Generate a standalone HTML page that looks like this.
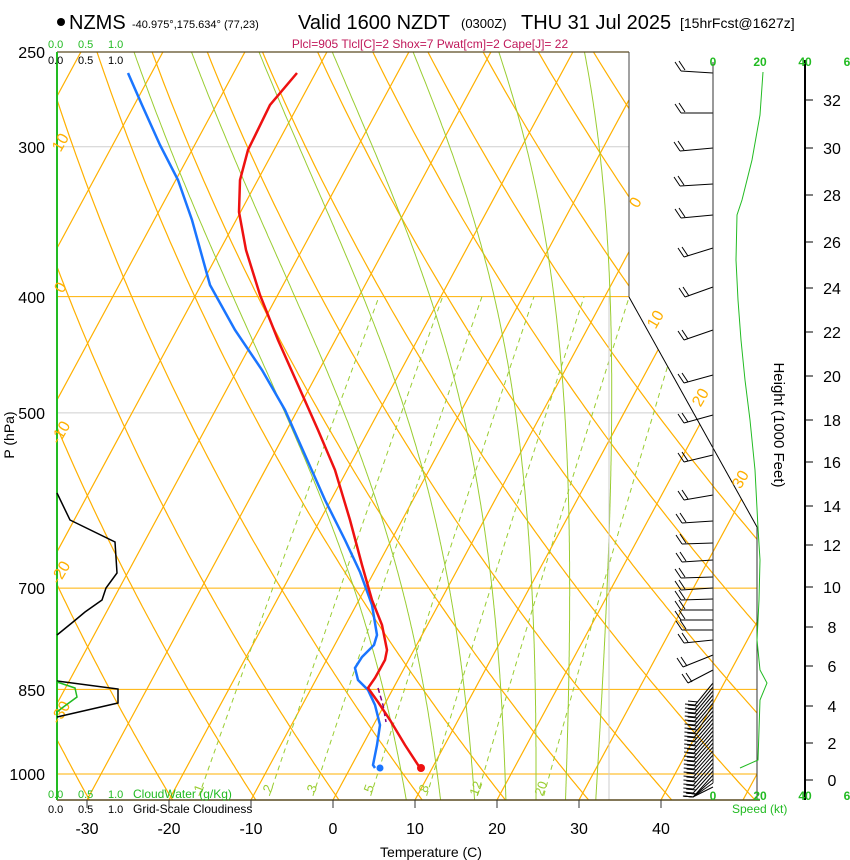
<!DOCTYPE html>
<html><head><meta charset="utf-8"><style>
html,body{margin:0;padding:0;background:#fff;}
svg{display:block;font-family:"Liberation Sans",sans-serif;}
</style></head><body>
<svg id="s" width="850" height="860" viewBox="0 0 850 860" xmlns="http://www.w3.org/2000/svg">
<defs><clipPath id="c"><polygon points="57,52 629,52 629,297 757,527 757,800 57,800"/></clipPath></defs>
<g id="grid" clip-path="url(#c)"></g>
<g id="over"></g>
</svg>
<script>
var NS="http://www.w3.org/2000/svg";
function el(par,tag,a,txt){var e=document.createElementNS(NS,tag);for(var k in a)e.setAttribute(k,a[k]);if(txt!=null)e.textContent=txt;par.appendChild(e);return e;}
var G=document.getElementById("grid"),O=document.getElementById("over");
function Y(p){return 774-521*Math.log(1000/p);}
function X(T,p){return 333+8.2*T+0.54*(800-Y(p));}
function pts(arr){return arr.map(function(a){return a[0].toFixed(1)+","+a[1].toFixed(1)}).join(" ");}
var OR="#ffb000",GR="#9acd32";
var ps=[];for(var p=1060;p>=240;p-=5)ps.push(p);
[[300,"#cfcfcf"],[500,"#cfcfcf"],[400,OR],[700,OR],[850,OR],[1000,OR]].forEach(function(a){el(G,"line",{x1:57,x2:760,y1:Y(a[0]),y2:Y(a[0]),stroke:a[1],"stroke-width":1});});
for(var T=-140;T<=60;T+=10){el(G,"polyline",{points:pts([[X(T,1060),Y(1060)],[X(T,240),Y(240)]]),fill:"none",stroke:OR,"stroke-width":1.2});}
for(var th=230;th<=480;th+=10){var a=[];ps.forEach(function(p){var t=th*Math.pow(p/1000,0.286)-273.15;a.push([X(t,p),Y(p)]);});el(G,"polyline",{points:pts(a),fill:"none",stroke:OR,"stroke-width":1.2});}
[1,2,3,5,8,12,20].forEach(function(w){var a=[];for(var p=1060;p>=400;p-=10){var e=w*p/(622+w);var l=Math.log(e/6.112);var t=243.5*l/(17.67-l);a.push([X(t,p),Y(p)]);}el(G,"polyline",{points:pts(a),fill:"none",stroke:GR,"stroke-width":1,"stroke-dasharray":"5,4"});});
function es(t){return 6.112*Math.exp(17.67*t/(t+243.5));}
function dTdp(Tk,p){var t=Tk-273.15;var rs=0.622*es(t)/(p-es(t));var Rd=287,Lv=2.5e6,cp=1005,eps=0.622;return (1/p)*(Rd*Tk+Lv*rs)/(cp+Lv*Lv*rs*eps/(Rd*Tk*Tk));}
function moist(t0){var Tk=t0+273.15,p=1000;var up=[];while(p>=244){up.push([X(Tk-273.15,p),Y(p)]);Tk-=dTdp(Tk,p)*2;p-=2;}up.push([X(Tk-273.15,p),Y(p)]);Tk=t0+273.15;p=1000;var dn=[];while(p<=1060){dn.unshift([X(Tk-273.15,p),Y(p)]);Tk+=dTdp(Tk,p)*2;p+=2;}return dn.concat(up);}
[128,185,252,325,406,493,581].forEach(function(tx){var lo=-40,hi=40;for(var i=0;i<30;i++){var m=(lo+hi)/2;var L=moist(m);var xe=L[L.length-1][0];if(xe<tx)lo=m;else hi=m;}el(G,"polyline",{points:pts(moist((lo+hi)/2)),fill:"none",stroke:GR,"stroke-width":1});});
el(G,"line",{x1:609,x2:609,y1:297,y2:800,stroke:"#cccccc","stroke-width":1});
el(O,"line",{x1:57,x2:629,y1:52,y2:52,stroke:"#5a4a20","stroke-width":1.3});
el(O,"line",{x1:629,x2:629,y1:52,y2:297,stroke:"#444","stroke-width":1});
el(O,"line",{x1:629,x2:757,y1:297,y2:527,stroke:"#000","stroke-width":1});
el(O,"line",{x1:757,x2:757,y1:527,y2:800,stroke:"#333","stroke-width":1});
el(O,"line",{x1:57,x2:760,y1:800,y2:800,stroke:"#5a4a20","stroke-width":1.5});
el(O,"line",{x1:57,x2:57,y1:52,y2:800,stroke:"#22bb22","stroke-width":2});
[87,169,251,333,415,497,579,661].forEach(function(x,i){el(O,"line",{x1:x,x2:x,y1:800,y2:808,stroke:"#333"});el(O,"text",{x:x,y:834,"font-size":16,"text-anchor":"middle"},String(-30+10*i));});
[[65,145,"10"],[65,290,"0"],[65,435,"-10"],[65,575,"-20"],[65,715,"-30"],[640,205,"0"],[660,322,"10"],[705,400,"20"],[745,482,"30"]].forEach(function(a){el(O,"text",{x:a[0],y:a[1],"font-size":16,fill:OR,transform:"rotate(-60 "+a[0]+" "+a[1]+")","text-anchor":"middle"},a[2]);});
[[203,790,"1"],[272,790,"2"],[316,790,"3"],[373,790,"5"],[428,790,"8"],[480,790,"12"],[545,790,"20"]].forEach(function(a){el(O,"text",{x:a[0],y:a[1],"font-size":13,fill:GR,transform:"rotate(-70 "+a[0]+" "+a[1]+")","text-anchor":"middle"},a[2]);});
el(O,"polyline",{points:"57,493 70,520 115,542 117,573 106,588 102,600 85,612 73,622 57,635",fill:"none",stroke:"#000","stroke-width":1.5});
el(O,"polyline",{points:"57,681 118,689 118,703 57,717",fill:"none",stroke:"#000","stroke-width":1.5});
el(O,"polyline",{points:"57,682 75,688 77,697 62,708 57,712",fill:"none",stroke:"#22bb22","stroke-width":1.5});
el(O,"polyline",{points:"128,73 142,105 160,145 178,180 192,220 210,285 235,330 262,370 285,410 305,455 325,500 345,540 360,572 372,605 377,635 374,645 362,657 355,668 358,680 368,690 375,705 380,725 377,745 373,765 375,768",fill:"none",stroke:"#1a75ff","stroke-width":2.5});
el(O,"polyline",{points:"378,688 383,705 386,722",fill:"none",stroke:"#800080","stroke-width":1.5,"stroke-dasharray":"5,3"});
el(O,"polyline",{points:"297,73 270,105 248,150 240,180 239,212 246,250 260,295 278,340 298,385 318,430 335,470 350,520 362,565 372,600 382,625 387,650 385,660 375,678 368,688 378,702 390,720 405,745 420,768",fill:"none",stroke:"#ee1111","stroke-width":2.5});
el(O,"circle",{cx:421,cy:768,r:4,fill:"#ee1111"});
el(O,"circle",{cx:380,cy:768,r:3.5,fill:"#1a75ff"});
function barb(y,ex,ey){el(O,"line",{x1:713,y1:y,x2:ex,y2:ey,stroke:"#000","stroke-width":1});el(O,"line",{x1:ex,y1:ey,x2:ex-6,y2:ey-9,stroke:"#000","stroke-width":1});el(O,"line",{x1:ex+4,y1:ey-1,x2:ex-2,y2:ey-10,stroke:"#000","stroke-width":1});}
[[73,681,71],[113,681,113],[148,680,151],[184,680,186],[215,681,218],[248,684,257],[287,685,297],[330,684,340],[375,684,383],[415,684,423],[455,684,462],[495,684,500],[521,682,523],[543,682,544],[560,682,562],[577,681,578],[588,681,590],[599,681,600],[610,681,610],[620,681,620],[630,682,630],[640,684,643],[655,683,667],[670,688,683]].forEach(function(b){barb(b[0],b[1],b[2]);});
function fan(y,ex,ey){el(O,"line",{x1:713,y1:y,x2:ex,y2:ey,stroke:"#000","stroke-width":1});el(O,"line",{x1:ex,y1:ey,x2:ex-10,y2:ey-1,stroke:"#000","stroke-width":1});el(O,"line",{x1:ex+3,y1:ey-3,x2:ex-7,y2:ey-4,stroke:"#000","stroke-width":1});}
for(var y=683;y<=790;y+=4){var ey=Math.min(y+22,797);fan(y,695-(y-683)*0.02,ey);}
el(O,"line",{x1:713,x2:713,y1:62,y2:783,stroke:"#333","stroke-width":1});
el(O,"line",{x1:805,x2:805,y1:60,y2:800,stroke:"#000","stroke-width":2});
el(O,"polyline",{points:"763,72 760,115 752,160 742,200 737,215 736,260 738,300 741,340 745,380 750,420 755,470 758,528 760,560 759,600 757,640 760,670 767,683 760,700 759,730 758,760 740,768",fill:"none",stroke:"#22bb22","stroke-width":1});
[[32,100],[30,148],[28,195],[26,242],[24,288],[22,332],[20,376],[18,420],[16,462],[14,506],[12,545],[10,587],[8,627],[6,666],[4,706],[2,743],[0,780]].forEach(function(h){el(O,"line",{x1:805,x2:813,y1:h[1],y2:h[1],stroke:"#000"});el(O,"text",{x:832,y:h[1]+6,"font-size":16,"text-anchor":"middle"},String(h[0]));});
el(O,"text",{x:774,y:425,"font-size":15,transform:"rotate(90 774 425)","text-anchor":"middle"},"Height (1000 Feet)");
[[713,"0"],[760,"20"],[805,"40"],[847,"6"]].forEach(function(a){el(O,"text",{x:a[0],y:66,"font-size":12,"font-weight":"bold",fill:"#22bb22","text-anchor":"middle"},a[1]);el(O,"text",{x:a[0],y:800,"font-size":12,"font-weight":"bold",fill:"#22bb22","text-anchor":"middle"},a[1]);});
el(O,"text",{x:732,y:813,"font-size":12,fill:"#22bb22"},"Speed (kt)");
[[250,52],[300,147],[400,297],[500,413],[700,588],[850,690],[1000,774]].forEach(function(a){el(O,"text",{x:45,y:a[1]+6,"font-size":16,"text-anchor":"end"},String(a[0]));});
el(O,"text",{x:14,y:435,"font-size":14,transform:"rotate(-90 14 435)","text-anchor":"middle"},"P (hPa)");
el(O,"text",{x:431,y:857,"font-size":14,"text-anchor":"middle"},"Temperature (C)");
[[48,"0.0"],[78,"0.5"],[108,"1.0"]].forEach(function(a){el(O,"text",{x:a[0],y:48,"font-size":11,fill:"#22bb22"},a[1]);el(O,"text",{x:a[0],y:64,"font-size":11},a[1]);el(O,"text",{x:a[0],y:798,"font-size":11,fill:"#22bb22"},a[1]);el(O,"text",{x:a[0],y:813,"font-size":11},a[1]);});
el(O,"text",{x:133,y:798,"font-size":12,fill:"#22bb22"},"CloudWater (g/Kg)");
el(O,"text",{x:133,y:813,"font-size":12},"Grid-Scale Cloudiness");
el(O,"circle",{cx:61,cy:22,r:4,fill:"#000"});
el(O,"text",{x:69,y:29,"font-size":20},"NZMS");
el(O,"text",{x:132,y:28,"font-size":11},"-40.975°,175.634° (77,23)");
el(O,"text",{x:298,y:29,"font-size":20},"Valid 1600 NZDT");
el(O,"text",{x:461,y:28,"font-size":13},"(0300Z)");
el(O,"text",{x:521,y:29,"font-size":20},"THU 31 Jul 2025");
el(O,"text",{x:680,y:28,"font-size":14},"[15hrFcst@1627z]");
el(O,"text",{x:430,y:48,"font-size":12,fill:"#c0185a","text-anchor":"middle"},"Plcl=905 Tlcl[C]=2 Shox=7 Pwat[cm]=2 Cape[J]= 22");
</script>
</body></html>
